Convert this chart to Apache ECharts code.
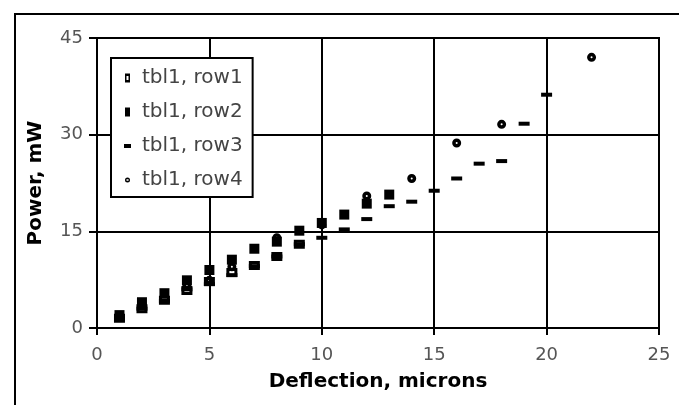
<!DOCTYPE html>
<html>
<head>
<meta charset="utf-8">
<script src="https://cdn.jsdelivr.net/npm/echarts@6/dist/echarts.min.js"></script>
<style>html,body{margin:0;padding:0;background:#fff;}#c{width:679px;height:405px;}</style>
</head>
<body>
<div id="c"></div>
<script>
const seriesNames = ['tbl1, row1', 'tbl1, row2', 'tbl1, row3', 'tbl1, row4'];
const row1 = [[1,1.5],[2,3.0],[3,4.3],[4,5.8],[5,7.2],[6,8.6],[7,9.7],[8,11.1],[9,13.0]];
const row2 = [[1,2.0],[2,4.0],[3,5.4],[4,7.4],[5,9.0],[6,10.6],[7,12.3],[8,13.4],[9,15.1],[10,16.3],[11,17.6],[12,19.3],[13,20.7]];
const row3 = [[1,1.5],[2,3.0],[3,4.2],[4,6.0],[5,6.8],[6,8.2],[7,9.6],[8,11.1],[9,13.0],[10,14.0],[11,15.3],[12,16.9],[13,18.9],[14,19.6],[15,21.3],[16,23.2],[17,25.5],[18,25.9],[19,31.7],[20,36.2]];
const row4 = [[2,3.8],[4,6.5],[5,7.4],[6,9.5],[8,14.0],[10,16.0],[12,20.5],[14,23.2],[16,28.7],[18,31.6],[22,42.0]];
const xTicks = [0,5,10,15,20,25];
const yTicks = [0,15,30,45];

// marker shapes (holes via opposite winding)
const hollowSquare = 'path://M0,0h11v9h-11z M3,3v3h5v-3z';
const hollowDot = 'path://M4.5,0A4.5,4.5 0 1,1 4.5,9A4.5,4.5 0 1,1 4.5,0Z M4.5,3.5A1,1 0 1,0 4.5,5.5A1,1 0 1,0 4.5,3.5Z';
const legIcon1 = 'path://M0,0h0 M7,9h0 M1,0h5v9h-5z M2.5,2.5v4h2v-4z';
const legIcon2 = 'path://M0,0h0 M7,9h0 M1,0h5v9h-5z';
const legIcon3 = 'path://M0,0h0 M7,9h0 M0,2.5h7v4h-7z';
const legIcon4 = 'path://M0,0h0 M7,9h0 M3.5,2A2.5,2.5 0 1,1 3.5,7A2.5,2.5 0 1,1 3.5,2Z M3.5,3.8A0.8,0.8 0 1,0 3.5,5.2A0.8,0.8 0 1,0 3.5,3.8Z';

const chart = echarts.init(document.getElementById('c'), null, {renderer:'canvas'});
const font = '"DejaVu Sans", sans-serif';
chart.setOption({
  animation: false,
  backgroundColor: '#fff',
  graphic: [{type:'rect', shape:{x:15, y:14, width:720, height:440}, style:{fill:'none', stroke:'#000', lineWidth:2}, z:-1}],
  grid: {left:97, right:20, top:38, bottom:77, show:true, borderColor:'#000', borderWidth:2, backgroundColor:'#fff'},
  xAxis: {
    type:'value', min:xTicks[0], max:xTicks[xTicks.length-1], interval:5,
    name:'Deflection, microns', nameLocation:'middle', nameGap:44,
    nameTextStyle:{fontFamily:font, fontSize:20, fontWeight:'bold', color:'#000'},
    axisLine:{lineStyle:{color:'#000', width:2}},
    axisTick:{show:true, length:7, inside:false, lineStyle:{color:'#000', width:2}},
    axisLabel:{fontFamily:font, fontSize:18, color:'#555', margin:18},
    splitLine:{show:true, lineStyle:{color:'#000', width:2}}
  },
  yAxis: {
    type:'value', min:yTicks[0], max:yTicks[yTicks.length-1], interval:15,
    name:'Power, mW', nameLocation:'middle', nameGap:51,
    nameTextStyle:{fontFamily:font, fontSize:20, fontWeight:'bold', color:'#000'},
    axisLine:{show:true, lineStyle:{color:'#000', width:2}},
    axisTick:{show:true, length:8, lineStyle:{color:'#000', width:2}},
    axisLabel:{fontFamily:font, fontSize:18, color:'#555', margin:14},
    splitLine:{show:true, lineStyle:{color:'#000', width:2}}
  },
  legend: {
    orient:'vertical', left:111, top:58,
    borderColor:'#000', borderWidth:2, backgroundColor:'#fff',
    padding:[10, 10, 7, 13],
    itemWidth:7, itemHeight:9, itemGap:14,
    textStyle:{fontFamily:font, fontSize:20, color:'#444', padding:[0,0,0,6]},
    data:[
      {name:seriesNames[0], icon:legIcon1},
      {name:seriesNames[1], icon:legIcon2},
      {name:seriesNames[2], icon:legIcon3},
      {name:seriesNames[3], icon:legIcon4}
    ]
  },
  series: [
    {name:seriesNames[0], type:'scatter', data:row1, symbol:hollowSquare, symbolSize:[11,9], itemStyle:{color:'#000', opacity:1}, z:2},
    {name:seriesNames[1], type:'scatter', data:row2, symbol:'rect', symbolSize:[10,10], itemStyle:{color:'#000', opacity:1}, z:3},
    {name:seriesNames[2], type:'scatter', data:row3, symbol:'rect', symbolSize:[11,4], itemStyle:{color:'#000', opacity:1}, z:4},
    {name:seriesNames[3], type:'scatter', data:row4, symbol:hollowDot, symbolSize:[9,9], itemStyle:{color:'#000', opacity:1}, z:5}
  ]
});
</script>
</body>
</html>
